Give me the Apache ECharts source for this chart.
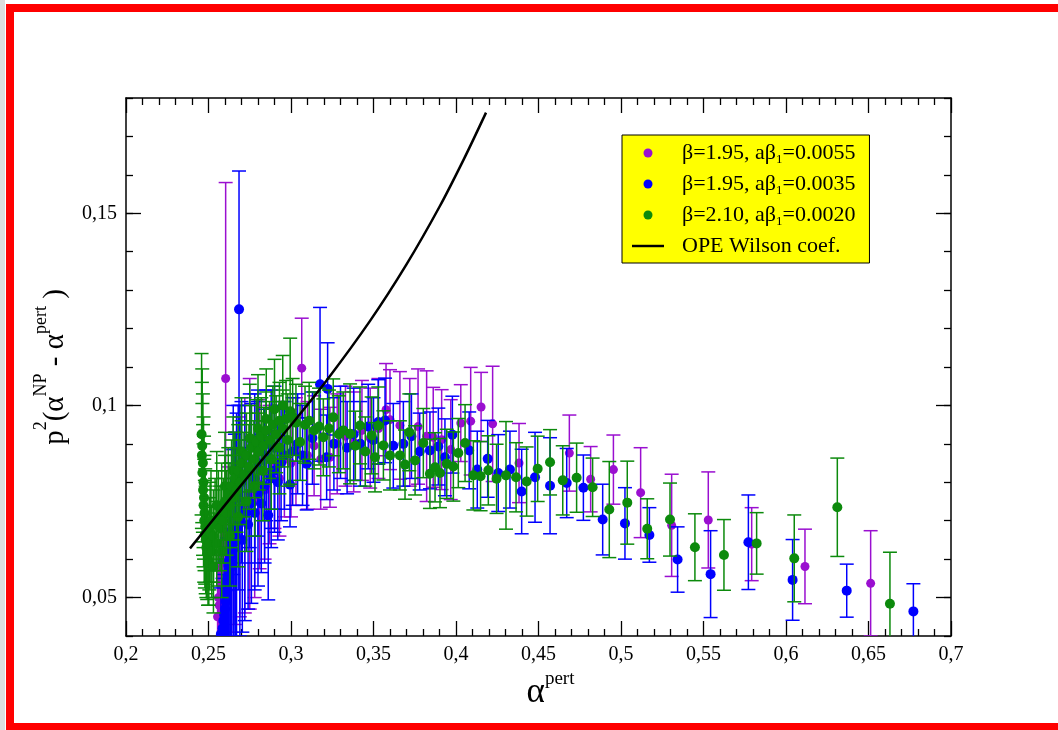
<!DOCTYPE html>
<html><head><meta charset="utf-8">
<script src="https://cdn.jsdelivr.net/npm/echarts@6/dist/echarts.min.js"></script>
<style>html,body{margin:0;padding:0;background:#fff}#c{width:1058px;height:730px}</style>
</head><body><div id="c"></div>
<script>
// ---- data: [alpha_pert, p^2(alpha_NP - alpha_pert), error] ----
const seriesNames = ['β=1.95, aβ1=0.0055', 'β=1.95, aβ1=0.0035', 'β=2.10, aβ1=0.0020'];
const lineName = 'OPE Wilson coef.';
const seriesColors = ['#9a0fd0', '#0000ff', '#0c8a0c'];

const purpleData = [
 [0.2555,0.0450,0.014],[0.2560,0.0500,0.015],[0.2565,0.0480,0.013],[0.2575,0.0530,0.016],[0.2585,0.0560,0.018],
 [0.2595,0.0590,0.020],[0.2604,0.1070,0.051],[0.2610,0.0510,0.015],[0.2620,0.0620,0.022],[0.2640,0.0650,0.024],
 [0.2660,0.0680,0.025],[0.2690,0.0710,0.026],[0.2720,0.0740,0.028],[0.2750,0.0770,0.030],[0.2780,0.0750,0.025],
 [0.2810,0.0795,0.022],[0.2840,0.0780,0.018],[0.2870,0.0820,0.018],[0.2900,0.0840,0.016],[0.2930,0.0810,0.015],
 [0.2960,0.0860,0.015],[0.3000,0.0850,0.014],[0.3030,0.0880,0.014],[0.3065,0.1097,0.013],[0.3100,0.0870,0.014],
 [0.3140,0.0895,0.013],[0.3180,0.0860,0.013],[0.3236,0.0865,0.013],[0.3280,0.0900,0.013],[0.3330,0.0920,0.013],
 [0.3380,0.0905,0.013],[0.3430,0.0935,0.013],[0.3480,0.0915,0.013],[0.3530,0.0940,0.013],[0.3576,0.0989,0.012],
 [0.3600,0.0963,0.013],[0.3660,0.0948,0.014],[0.3720,0.0930,0.014],[0.3770,0.0945,0.015],[0.3822,0.0920,0.017],
 [0.3862,0.0917,0.013],[0.3913,0.0911,0.013],[0.3968,0.0885,0.013],[0.4029,0.0954,0.010],[0.4089,0.0959,0.014],
 [0.4152,0.0996,0.009],[0.4222,0.0952,0.015],[0.4382,0.0850,0.0103],[0.4687,0.0876,0.0099],[0.4816,0.0808,0.0085],
 [0.4954,0.0833,0.009],[0.5119,0.0773,0.0117],[0.5307,0.0688,0.0133],[0.5529,0.0702,0.0125],[0.5792,0.0639,0.0095],
 [0.6115,0.0581,0.0097],[0.6513,0.0537,0.0137]
];

const blueData = [
 [0.2575,0.0405,0.012],[0.2585,0.0420,0.013],[0.2590,0.0440,0.012],[0.2595,0.0455,0.014],[0.2600,0.0470,0.013],
 [0.2605,0.0490,0.014],[0.2610,0.0505,0.015],[0.2615,0.0520,0.016],[0.2620,0.0540,0.017],[0.2625,0.0555,0.018],
 [0.2630,0.0575,0.020],[0.2635,0.0590,0.022],[0.2640,0.0610,0.024],[0.2650,0.0625,0.026],[0.2660,0.0645,0.028],
 [0.2665,0.0660,0.027],[0.2670,0.0680,0.030],[0.2685,0.1250,0.036],[0.2690,0.0700,0.030],[0.2705,0.0650,0.024],
 [0.2650,0.0780,0.022],[0.2700,0.0800,0.021],[0.2750,0.0830,0.020],[0.2800,0.0850,0.019],[0.2850,0.0870,0.017],
 [0.2900,0.0890,0.016],[0.2680,0.0760,0.024],[0.2780,0.0810,0.022],[0.2880,0.0860,0.018],
 [0.2720,0.0720,0.028],[0.2740,0.0690,0.022],[0.2760,0.0745,0.026],[0.2780,0.0720,0.020],[0.2800,0.0770,0.024],
 [0.2820,0.0745,0.018],[0.2840,0.0790,0.020],[0.2862,0.0714,0.022],[0.2880,0.0810,0.018],[0.2900,0.0830,0.016],
 [0.2920,0.0800,0.015],[0.2940,0.0850,0.015],[0.2960,0.0870,0.014],[0.2994,0.0794,0.011],[0.3010,0.0880,0.014],
 [0.3040,0.0900,0.013],[0.3070,0.0870,0.013],[0.3095,0.0848,0.012],[0.3130,0.0915,0.012],[0.3176,0.1055,0.020],
 [0.3216,0.0865,0.011],[0.3222,0.1043,0.012],[0.3260,0.0900,0.012],[0.3300,0.0930,0.012],[0.3340,0.0890,0.012],
 [0.3380,0.0925,0.012],[0.3420,0.0900,0.011],[0.3468,0.0945,0.011],[0.3500,0.0910,0.011],[0.3529,0.0957,0.011],
 [0.3570,0.0961,0.011],[0.3620,0.0895,0.011],[0.3681,0.0900,0.011],[0.3730,0.0920,0.011],[0.3780,0.0880,0.010],
 [0.3842,0.0883,0.010],[0.3893,0.0893,0.010],[0.3933,0.0865,0.010],[0.3978,0.0924,0.010],[0.4080,0.0883,0.010],
 [0.4129,0.0833,0.010],[0.4192,0.0861,0.010],[0.4256,0.0824,0.010],[0.4327,0.0833,0.010],[0.4398,0.0776,0.011],
 [0.4479,0.0813,0.0117],[0.4570,0.0791,0.0125],[0.4671,0.0798,0.009],[0.4772,0.0786,0.0085],[0.4889,0.0703,0.0092],
 [0.5024,0.0693,0.0093],[0.5172,0.0663,0.0071],[0.5343,0.0599,0.0085],[0.5543,0.0561,0.0113],[0.5772,0.0644,0.0123],
 [0.6040,0.0546,0.0105],[0.6368,0.0518,0.0069],[0.6772,0.0464,0.0072]
];

const greenData = [
 [0.2458,0.0925,0.021],[0.2462,0.0895,0.020],[0.2460,0.0870,0.019],[0.2466,0.0850,0.018],[0.2463,0.0825,0.018],
 [0.2470,0.0800,0.017],[0.2467,0.0780,0.017],[0.2473,0.0760,0.016],[0.2470,0.0740,0.016],[0.2476,0.0720,0.015],
 [0.2474,0.0700,0.016],[0.2480,0.0685,0.015],[0.2478,0.0665,0.014],[0.2483,0.0650,0.014],[0.2487,0.0630,0.013],
 [0.2492,0.0615,0.012],[0.2497,0.0600,0.012],[0.2502,0.0590,0.011],[0.2505,0.0640,0.012],[0.2510,0.0670,0.013],
 [0.2515,0.0700,0.013],[0.2520,0.0620,0.012],[0.2530,0.0660,0.012],[0.2540,0.0690,0.012],[0.2550,0.0640,0.011],
 [0.2530,0.0580,0.012],[0.2580,0.0620,0.012],[0.2630,0.0660,0.013],[0.2680,0.0710,0.013],[0.2730,0.0750,0.013],
 [0.2780,0.0790,0.013],[0.2830,0.0830,0.013],[0.2880,0.0860,0.013],[0.2930,0.0890,0.012],[0.2980,0.0910,0.012],
 [0.2550,0.0740,0.014],[0.2600,0.0790,0.014],[0.2650,0.0830,0.014],[0.2700,0.0880,0.014],[0.2750,0.0915,0.014],
 [0.2800,0.0940,0.014],[0.2850,0.0965,0.013],[0.2900,0.0990,0.013],[0.2950,0.1000,0.013],
 [0.2560,0.0710,0.012],[0.2570,0.0680,0.011],[0.2580,0.0730,0.012],[0.2590,0.0700,0.011],[0.2600,0.0750,0.012],
 [0.2610,0.0720,0.011],[0.2620,0.0770,0.012],[0.2630,0.0740,0.011],[0.2640,0.0790,0.012],[0.2650,0.0760,0.011],
 [0.2660,0.0810,0.012],[0.2670,0.0780,0.011],[0.2680,0.0830,0.012],[0.2690,0.0800,0.011],[0.2700,0.0850,0.011],
 [0.2715,0.0820,0.011],[0.2730,0.0870,0.011],[0.2745,0.0840,0.011],[0.2760,0.0890,0.011],[0.2775,0.0860,0.010],
 [0.2790,0.0905,0.011],[0.2805,0.0880,0.010],[0.2820,0.0920,0.010],[0.2835,0.0895,0.010],[0.2850,0.0935,0.010],
 [0.2870,0.0910,0.010],[0.2890,0.0950,0.010],[0.2910,0.0925,0.010],[0.2930,0.0960,0.010],[0.2950,0.0940,0.010],
 [0.2970,0.0965,0.010],[0.2995,0.0985,0.019],[0.3010,0.0970,0.010],[0.3030,0.0955,0.010],[0.3055,0.0905,0.010],
 [0.3085,0.0950,0.010],[0.3110,0.0960,0.010],[0.3140,0.0935,0.010],[0.3170,0.0945,0.010],[0.3196,0.0917,0.010],
 [0.3230,0.0940,0.010],[0.3256,0.0969,0.010],[0.3290,0.0925,0.010],[0.3317,0.0935,0.010],[0.3358,0.0926,0.013],
 [0.3390,0.0895,0.009],[0.3418,0.0948,0.010],[0.3450,0.0880,0.009],[0.3489,0.0922,0.010],[0.3509,0.0865,0.009],
 [0.3529,0.0948,0.010],[0.3560,0.0896,0.009],[0.3600,0.0870,0.009],[0.3660,0.0870,0.009],[0.3691,0.0846,0.009],
 [0.3717,0.0930,0.010],[0.3752,0.0857,0.009],[0.3802,0.0902,0.009],[0.3842,0.0822,0.009],[0.3873,0.0839,0.009],
 [0.3903,0.0824,0.009],[0.3944,0.0848,0.009],[0.3984,0.0841,0.009],[0.4014,0.0876,0.009],[0.4055,0.0902,0.010],
 [0.4105,0.0818,0.009],[0.4149,0.0816,0.009],[0.4196,0.0831,0.009],[0.4246,0.0809,0.009],[0.4303,0.0818,0.014],
 [0.4364,0.0813,0.009],[0.4428,0.0802,0.009],[0.4495,0.0835,0.0085],[0.4570,0.0852,0.0085],[0.4647,0.0805,0.009],
 [0.4731,0.0812,0.009],[0.4828,0.0787,0.0076],[0.4929,0.0729,0.0125],[0.5038,0.0747,0.0108],[0.5159,0.0679,0.0078],
 [0.5297,0.0703,0.0095],[0.5448,0.0631,0.0087],[0.5624,0.0611,0.0092],[0.5822,0.0641,0.008],[0.6050,0.0602,0.0113],
 [0.6311,0.0735,0.0128],[0.6630,0.0484,0.0134]
];

// OPE Wilson coefficient curve
const opeX = [0.2388, 0.2570, 0.2770, 0.3012, 0.3218, 0.3479, 0.3700, 0.3900, 0.4050, 0.4182];
const opeY = [0.0628, 0.0725, 0.0830, 0.0955, 0.1066, 0.1220, 0.1367, 0.1517, 0.1643, 0.1762];

// axes
const xMin = 0.2, xMax = 0.7, xStep = 0.05;
const yMin = 0.04, yMax = 0.18, yMinorStep = 0.01;
const yMajorTicks = [0.05, 0.10, 0.15];

const FONT = 'Liberation Serif';
const chart = echarts.init(document.getElementById('c'), null, {renderer: 'canvas'});

function commaFmt(v) {
  let s = (Math.round(v * 1000) / 1000).toString();
  return s.replace('.', ',');
}

function errRender(r) {
  return function (params, api) {
    const x = api.value(0), y = api.value(1), e = api.value(2);
    const p = api.coord([x, y]);
    const hi = api.coord([x, y + e]);
    const lo = api.coord([x, y - e]);
    const c = api.visual('color');
    const cap = 7;
    const ls = {stroke: c, lineWidth: 1.5};
    return {
      type: 'group',
      children: [
        {type: 'line', shape: {x1: p[0], y1: hi[1], x2: p[0], y2: lo[1]}, style: ls},
        {type: 'line', shape: {x1: p[0] - cap, y1: hi[1], x2: p[0] + cap, y2: hi[1]}, style: ls},
        {type: 'line', shape: {x1: p[0] - cap, y1: lo[1], x2: p[0] + cap, y2: lo[1]}, style: ls},
        {type: 'circle', shape: {cx: p[0], cy: p[1], r: r}, style: {fill: c}}
      ]
    };
  };
}

const tickLine = {color: '#000', width: 1.3};
const baseX = {
  type: 'value', min: xMin, max: xMax, interval: xStep,
  axisLine: {show: true, onZero: false, lineStyle: {color: '#000', width: 1.5}},
  axisTick: {show: true, inside: true, length: 15, lineStyle: tickLine},
  minorTick: {show: true, splitNumber: 5, length: 7, lineStyle: tickLine},
  splitLine: {show: false}, minorSplitLine: {show: false}
};
const baseYMinor = {
  type: 'value', min: yMin, max: yMax, interval: yMinorStep,
  axisLine: {show: true, onZero: false, lineStyle: {color: '#000', width: 1.5}},
  axisTick: {show: true, inside: true, length: 7, lineStyle: tickLine},
  splitLine: {show: false}
};
const baseYMajor = {
  type: 'value', min: yMin, max: yMax, interval: yMinorStep,
  axisLine: {show: false},
  axisTick: {show: true, inside: true, length: 15, lineStyle: tickLine, customValues: yMajorTicks},
  axisLabel: {show: false},
  splitLine: {show: false}
};

const option = {
  backgroundColor: '#ffffff',
  animation: false,
  graphic: [
    {type: 'rect', shape: {x: 0, y: 0, width: 5, height: 730}, style: {fill: '#dcdcdc'}, z: 100},
    {type: 'rect', shape: {x: 10, y: 8, width: 1070, height: 719}, style: {fill: 'none', stroke: '#ff0000', lineWidth: 8}, z: 100}
  ],
  grid: {left: 126, top: 98, width: 825, height: 538, containLabel: false},
  legend: {
    orient: 'vertical', left: 622, top: 135,
    backgroundColor: '#ffff00', borderColor: '#000', borderWidth: 1, borderRadius: 0,
    padding: [7, 14, 6, 10], itemGap: 7, itemWidth: 32, itemHeight: 9,
    textStyle: {
      fontFamily: FONT, fontSize: 22, color: '#000', padding: [0, 0, 0, 13],
      rich: {
        n: {fontFamily: FONT, fontSize: 22, lineHeight: 26, verticalAlign: 'middle', color: '#000'},
        s: {fontFamily: FONT, fontSize: 13, lineHeight: 13, verticalAlign: 'bottom', color: '#000'}
      }
    },
    formatter: function (name) {
      const m = name.match(/^(.*aβ)1(=.*)$/);
      if (m) return '{n|' + m[1] + '}{s|1}{n|' + m[2] + '}';
      return '{n|' + name + '}';
    },
    data: [
      {name: seriesNames[0], icon: 'circle'},
      {name: seriesNames[1], icon: 'circle'},
      {name: seriesNames[2], icon: 'circle'},
      {name: lineName, icon: 'path://M0,0L30,0L30,2.3L0,2.3Z', itemStyle: {color: '#000'}}
    ]
  },
  xAxis: [
    Object.assign({}, baseX, {
      position: 'bottom',
      axisLabel: {show: true, formatter: commaFmt, fontFamily: FONT, fontSize: 20, color: '#000', margin: 9, showMinLabel: true, showMaxLabel: true},
      name: '{a|α}{s|pert}', nameLocation: 'middle', nameGap: 20,
      nameTextStyle: {padding: [0, 0, 0, 24], rich: {
        a: {fontFamily: FONT, fontSize: 35, lineHeight: 40, verticalAlign: 'bottom', color: '#000'},
        s: {fontFamily: FONT, fontSize: 19, lineHeight: 19, verticalAlign: 'top', color: '#000'}
      }}
    }),
    Object.assign({}, baseX, {position: 'top', axisLabel: {show: false}})
  ],
  yAxis: [
    Object.assign({}, baseYMinor, {
      position: 'left',
      axisLabel: {show: true, customValues: yMajorTicks, formatter: commaFmt, fontFamily: FONT, fontSize: 20, color: '#000', margin: 9},
      name: '{a|p}{s|2}{a|(α}{s|NP}{a| - α}{s|pert}{a| )}', nameLocation: 'middle', nameRotate: 90, nameGap: 56,
      nameTextStyle: {rich: {
        a: {fontFamily: FONT, fontSize: 29, lineHeight: 38, verticalAlign: 'bottom', color: '#000'},
        s: {fontFamily: FONT, fontSize: 18, lineHeight: 18, verticalAlign: 'top', color: '#000'}
      }}
    }),
    Object.assign({}, baseYMajor, {position: 'left'}),
    Object.assign({}, baseYMinor, {position: 'right', axisLabel: {show: false}}),
    Object.assign({}, baseYMajor, {position: 'right'})
  ],
  series: [
    {name: seriesNames[0], type: 'custom', xAxisIndex: 0, yAxisIndex: 0, clip: true,
     itemStyle: {color: seriesColors[0]}, encode: {x: 0, y: 1}, renderItem: errRender(4.5), data: purpleData, z: 2},
    {name: seriesNames[1], type: 'custom', xAxisIndex: 0, yAxisIndex: 0, clip: true,
     itemStyle: {color: seriesColors[1]}, encode: {x: 0, y: 1}, renderItem: errRender(5), data: blueData, z: 3},
    {name: seriesNames[2], type: 'custom', xAxisIndex: 0, yAxisIndex: 0, clip: true,
     itemStyle: {color: seriesColors[2]}, encode: {x: 0, y: 1}, renderItem: errRender(5), data: greenData, z: 4},
    {name: lineName, type: 'line', xAxisIndex: 0, yAxisIndex: 0, smooth: 0.3, symbol: 'none', showSymbol: false,
     lineStyle: {color: '#000', width: 2.5}, itemStyle: {color: '#000'},
     data: opeX.map((x, i) => [x, opeY[i]]), z: 5}
  ]
};
chart.setOption(option);
</script>
</body></html>
